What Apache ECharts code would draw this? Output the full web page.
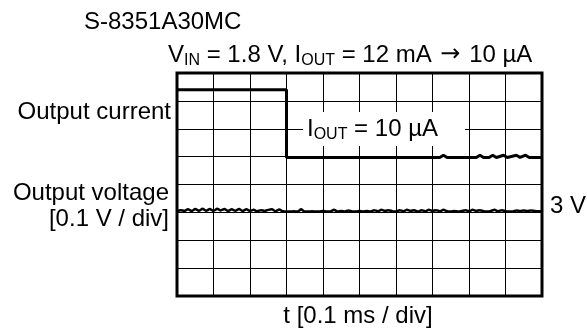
<!DOCTYPE html>
<html>
<head>
<meta charset="utf-8">
<script src="https://cdn.jsdelivr.net/npm/echarts@6/dist/echarts.min.js"></script>
<style>
html,body{margin:0;padding:0;background:#fff;}
#chart{width:587px;height:329px;}
</style>
</head>
<body>
<div id="chart"></div>
<script>
// Time axis: 10 divisions (0.1 ms / div); vertical: 8 divisions
const xDivisions = [0, 10];
const yDivisions = [0, 8];

// Output current trace (in divisions)
const currentT = [0, 3.0, 3.0, 3.95, 4.0, 4.05, 7.2, 7.3, 7.4, 8.2, 8.3, 8.4, 8.55, 8.65, 8.75, 8.95, 9.05, 9.3, 9.4, 9.55, 9.65, 10];
const currentV = [7.40, 7.40, 4.97, 4.97, 5.02, 4.97, 4.97, 5.05, 4.97, 4.97, 5.05, 4.97, 4.97, 5.05, 4.97, 5.05, 4.97, 5.05, 4.97, 5.05, 4.97, 4.97];

// Output voltage trace, sampled every 0.1 div
const voltStep = 0.1;
const voltV = [
  3.04, 3.08, 3.05,
  3.11, 3.05, 3.12, 3.06, 3.13, 3.06, 3.12, 3.05, 3.13, 3.07, 3.12, 3.05, 3.11, 3.06, 3.12, 3.05, 3.11,
  3.05, 3.09, 3.04, 3.08, 3.05, 3.09,
  3.11, 3.04, 3.10, 3.04,
  3.03, 3.03, 3.04, 3.03,
  3.11,
  3.03, 3.03, 3.04, 3.03, 3.03, 3.05, 3.03, 3.03,
  3.09,
  3.03, 3.05, 3.03, 3.07, 3.03, 3.03,
  3.05, 3.03, 3.05, 3.03,
  3.08, 3.04, 3.09, 3.05, 3.08, 3.04,
  3.03, 3.08, 3.04, 3.09, 3.05, 3.08,
  3.03,
  3.08, 3.04, 3.09, 3.05, 3.08, 3.04, 3.09, 3.04,
  3.03, 3.05, 3.03, 3.05,
  3.08, 3.04, 3.09, 3.05, 3.08, 3.04,
  3.03, 3.05,
  3.09, 3.04, 3.08, 3.04,
  3.03, 3.03,
  3.07, 3.05, 3.07, 3.05, 3.07, 3.05,
  3.04, 3.04
];

const titleText = 'S-8351A30MC';
const leftLabels = ['Output current', 'Output voltage', '[0.1 V / div]'];
const rightLabel = '3 V';
const xLabel = 't [0.1 ms / div]';

const FONT = '"Liberation Sans", Arial, sans-serif';

const currentData = currentT.map((t, i) => [t, currentV[i]]);
const voltData = voltV.map((v, i) => [+(i * voltStep).toFixed(2), v]);

const chart = echarts.init(document.getElementById('chart'), null, {renderer: 'canvas'});

const mainStyle = {fontSize: 24, fontFamily: FONT, color: '#000', lineHeight: 28};
const arrowStyle = {fontSize: 24, fontFamily: '"DejaVu Sans", sans-serif', color: '#000', lineHeight: 28, padding: [0, 2, 0, 2]};
const subStyle = {fontSize: 16, fontFamily: FONT, color: '#000', lineHeight: 15, verticalAlign: 'bottom'};

function txt(text, x, y, align) {
  return {
    type: 'text', z: 100, silent: true,
    style: {text: text, x: x, y: y, align: align, verticalAlign: 'middle',
            fontSize: 24, fontFamily: FONT, fill: '#000'}
  };
}

chart.setOption({
  animation: false,
  backgroundColor: '#fff',
  grid: {left: 177, right: 45, top: 73, bottom: 33, show: true, borderColor: '#000', borderWidth: 3, containLabel: false},
  xAxis: {
    type: 'value', min: xDivisions[0], max: xDivisions[1], interval: 1,
    axisLine: {show: false}, axisTick: {show: false}, axisLabel: {show: false},
    splitLine: {show: true, lineStyle: {color: '#000', width: 1}}
  },
  yAxis: {
    type: 'value', min: yDivisions[0], max: yDivisions[1], interval: 1,
    axisLine: {show: false}, axisTick: {show: false}, axisLabel: {show: false},
    splitLine: {show: true, lineStyle: {color: '#000', width: 1}}
  },
  series: [
    {type: 'line', data: currentData, symbol: 'none', silent: true, z: 5,
     lineStyle: {color: '#000', width: 3}},
    {type: 'line', data: voltData, symbol: 'none', silent: true, z: 5, smooth: 0.2,
     lineStyle: {color: '#000', width: 2.5}}
  ],
  graphic: [
    txt(titleText, 84, 22, 'left'),
    {
      type: 'text', z: 100, silent: true,
      style: {
        text: '{m|V}{s|IN}{m| = 1.8 V, I}{s|OUT}{m| = 12 mA }{a|\u2192}{m| 10 \u00b5A}',
        x: 168, y: 55, align: 'left', verticalAlign: 'middle',
        rich: {m: mainStyle, s: subStyle, a: arrowStyle}
      }
    },
    txt(leftLabels[0], 171, 112.5, 'right'),
    txt(leftLabels[1], 169, 193, 'right'),
    txt(leftLabels[2], 169, 219, 'right'),
    txt(rightLabel, 550, 206.5, 'left'),
    txt(xLabel, 358, 316, 'center'),
    {
      type: 'rect', z: 90, silent: true,
      shape: {x: 303, y: 112, width: 162, height: 34},
      style: {fill: '#fff'}
    },
    {
      type: 'text', z: 100, silent: true,
      style: {
        text: '{m|I}{s|OUT}{m| = 10 \u00b5A}',
        x: 307, y: 129, align: 'left', verticalAlign: 'middle',
        rich: {m: mainStyle, s: subStyle}
      }
    }
  ]
});
</script>
</body>
</html>
